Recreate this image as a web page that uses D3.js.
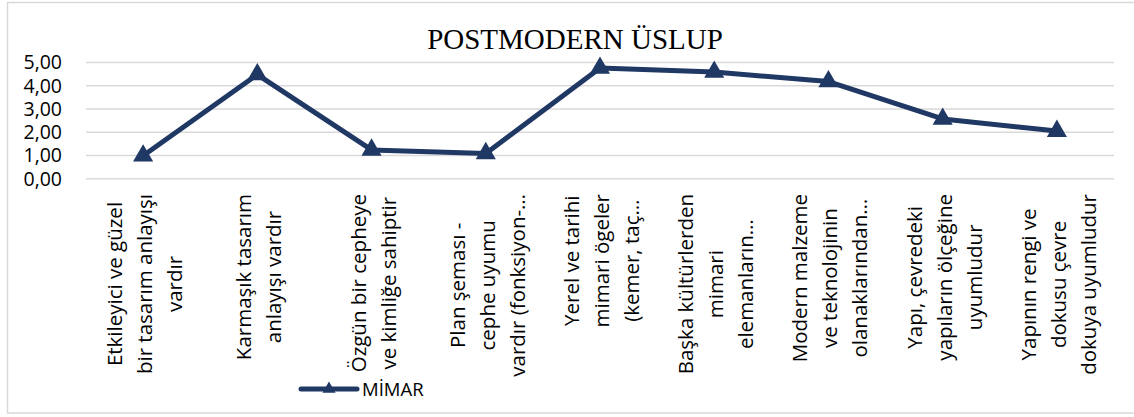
<!DOCTYPE html>
<html>
<head>
<meta charset="utf-8">
<script src="https://cdn.jsdelivr.net/npm/d3@7"></script>
<style>
  body { margin: 0; background: #fff; }
  svg { display: block; }
</style>
</head>
<body>
<script>
// Width and Height
const w = 1134;
const h = 417;

// Chart data
const title = "POSTMODERN ÜSLUP";
const seriesName = "MİMAR";
const categories = [
    ["Etkileyici ve güzel", "bir tasarım anlayışı", "vardır"],
    ["Karmaşık tasarım", "anlayışı vardır"],
    ["Özgün bir cepheye", "ve kimliğe sahiptir"],
    ["Plan şeması -", "cephe uyumu", "vardır (fonksiyon-…"],
    ["Yerel ve tarihi", "mimari ögeler", "(kemer, taç…"],
    ["Başka kültürlerden", "mimari", "elemanların…"],
    ["Modern malzeme", "ve teknolojinin", "olanaklarından…"],
    ["Yapı, çevredeki", "yapıların ölçeğine", "uyumludur"],
    ["Yapının rengi ve", "dokusu çevre", "dokuya uyumludur"]
];
const values = [0.97, 4.46, 1.22, 1.07, 4.74, 4.57, 4.16, 2.55, 2.03];
const yTicks = [0, 1, 2, 3, 4, 5];

const navy = "#203864";

// Create SVG
const svg = d3.select("body")
                .append("svg")
                .attr("width", w)
                .attr("height", h);

// chart border (right side runs off the picture)
svg.append("rect")
    .attr("x", 7.5)
    .attr("y", 2.5)
    .attr("width", 1140)
    .attr("height", 410.5)
    .attr("fill", "#fff")
    .attr("stroke", "#d9d9d9")
    .attr("stroke-width", 1.5);

// Scales
const x = d3.scaleBand()
            .domain(d3.range(categories.length))
            .range([86, 1114]);

const y = d3.scaleLinear()
            .domain([0, 5])
            .range([178.3, 62]);

// Title
svg.append("text")
    .attr("x", 575)
    .attr("y", 49)
    .attr("text-anchor", "middle")
    .style("font-family", "'Liberation Serif', 'Times New Roman', serif")
    .style("font-size", "29px")
    .style("fill", "#000")
    .text(title);

// Gridlines + y labels
const yAxis = d3.axisLeft(y)
                .tickValues(yTicks)
                .tickSize(-(1114 - 86))
                .tickPadding(24)
                .tickFormat(d => d3.format(".2f")(d).replace(".", ","));

const gy = svg.append("g")
    .attr("transform", "translate(86,0)")
    .call(yAxis);

gy.select(".domain").remove();
gy.selectAll(".tick line")
    .attr("stroke", "#d9d9d9")
    .attr("stroke-width", 1.5);
gy.selectAll(".tick text")
    .attr("dy", "0.35em")
    .style("font-family", "'Open Sans', sans-serif")
    .style("font-size", "19.5px")
    .style("fill", "#000");

// Category labels (rotated, lines centred on each other)
const labelFont = "20.5px";
const lineGap = 30;

categories.forEach(function(lines, i) {

    let cx = x(i) + x.bandwidth() / 2;
    let g = svg.append("g");

    let texts = g.selectAll("text")
        .data(lines)
        .enter()
        .append("text")
        .attr("text-anchor", "middle")
        .style("font-family", "'Open Sans', sans-serif")
        .style("font-size", labelFont)
        .style("fill", "#000")
        .text(d => d);

    // longest line sets where the block sits
    let maxLen = 0;
    texts.each(function() {
        let l = this.getComputedTextLength();
        if (l > maxLen) maxLen = l;
    });

    let cy = 194 + maxLen / 2;
    let n = lines.length;

    texts.attr("transform", function(d, j) {
        let bx = cx + 9 + (j - (n - 1) / 2) * lineGap;
        return "translate(" + bx + "," + cy + ") rotate(-90)";
    });
});

// Line
const line = d3.line()
                .x((d, i) => x(i) + x.bandwidth() / 2)
                .y(d => y(d));

svg.append("path")
    .datum(values)
    .attr("d", line)
    .attr("fill", "none")
    .attr("stroke", navy)
    .attr("stroke-width", 5)
    .attr("stroke-linejoin", "round")
    .attr("stroke-linecap", "round");

// Triangle markers
const tri = d3.symbol().type(d3.symbolTriangle).size(175);

svg.selectAll(".marker")
    .data(values)
    .enter()
    .append("path")
    .attr("class", "marker")
    .attr("d", tri)
    .attr("transform", (d, i) => "translate(" + (x(i) + x.bandwidth() / 2) + "," + y(d) + ")")
    .attr("fill", navy);

// Legend
const legend = svg.append("g");

legend.append("line")
    .attr("x1", 301)
    .attr("x2", 357)
    .attr("y1", 389)
    .attr("y2", 389)
    .attr("stroke", navy)
    .attr("stroke-width", 5)
    .attr("stroke-linecap", "round");

legend.append("path")
    .attr("d", d3.symbol().type(d3.symbolTriangle).size(75))
    .attr("transform", "translate(329,389)")
    .attr("fill", navy);

legend.append("text")
    .attr("x", 362)
    .attr("y", 396)
    .style("font-family", "'Open Sans', sans-serif")
    .style("font-size", "18.5px")
    .style("fill", "#000")
    .text(seriesName);
</script>
</body>
</html>
